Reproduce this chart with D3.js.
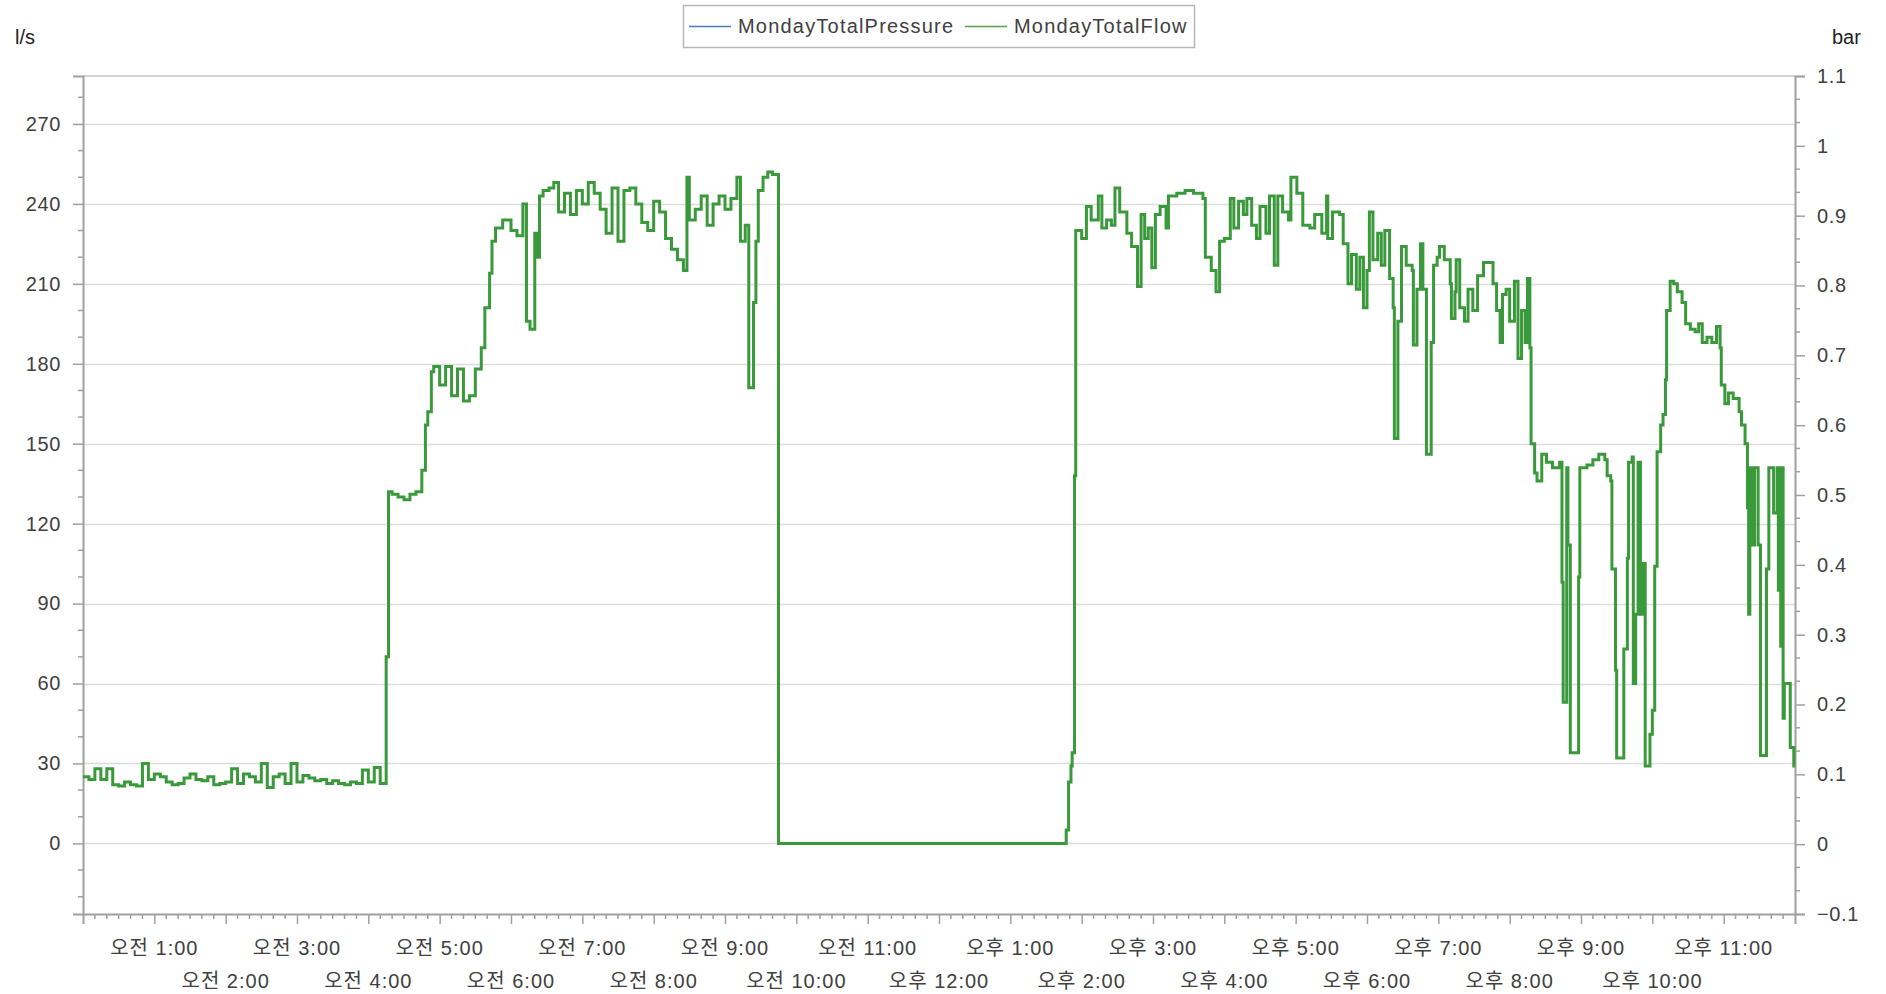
<!DOCTYPE html>
<html lang="ko">
<head>
<meta charset="utf-8">
<title>Monday total flow</title>
<script src="https://cdn.jsdelivr.net/npm/d3@7"></script>
<style>
  body { margin: 0; background: #fff; }
  text { font-family: "Liberation Sans", "Noto Sans CJK KR", sans-serif; }
</style>
</head>
<body>
<script>
// series names for the legend
var seriesNames = ["MondayTotalPressure", "MondayTotalFlow"];

// pressure series has no visible points in the picture
var pressureTimes = [];
var pressure = [];

// flow readings (l/s), one time per value
var times = [
  "0:00","0:05","0:10","0:15","0:20","0:25","0:30","0:35","0:40","0:45","0:50","0:55",
  "1:00","1:05","1:10","1:15","1:20","1:25","1:30","1:35","1:40","1:45","1:50","1:55",
  "2:00","2:05","2:10","2:15","2:20","2:25","2:30","2:35","2:40","2:45","2:50","2:55",
  "3:00","3:05","3:10","3:15","3:20","3:25","3:30","3:35","3:40","3:45","3:50","3:55",
  "4:00","4:05","4:10","4:15","4:17","4:20","4:25","4:30","4:35","4:40","4:45","4:48","4:50","4:53","4:55",
  "5:00","5:05","5:10","5:15","5:20","5:25","5:30","5:35","5:38","5:42","5:44","5:47","5:53",
  "6:00","6:05","6:10","6:13","6:16","6:20","6:22","6:24","6:27","6:32","6:36","6:40","6:45","6:50","6:55",
  "7:00","7:05","7:10","7:15","7:20","7:25","7:30","7:35","7:40","7:45","7:50","7:55",
  "8:00","8:05","8:10","8:15","8:20","8:25","8:28","8:30","8:35","8:40","8:45","8:50","8:55",
  "9:00","9:05","9:10","9:13","9:17","9:20","9:24","9:26","9:28","9:32","9:36","9:40","9:45",
  "13:45","13:47","13:49","13:51","13:52","13:54","13:55",
  "14:00","14:04","14:08","14:14","14:17","14:21","14:25","14:28","14:32","14:38","14:42","14:47","14:50","14:53","14:56","14:59",
  "15:02","15:06","15:11","15:13","15:20","15:27","15:34","15:42","15:44","15:49","15:53","15:56",
  "16:00","16:05","16:08","16:12","16:16","16:19","16:23","16:27","16:30","16:35","16:38","16:42","16:45","16:49","16:54","16:56",
  "17:01","17:06","17:12","17:16","17:22","17:26","17:27","17:31","17:37","17:40","17:44","17:47","17:51","17:54","17:57",
  "18:00","18:02","18:05","18:09","18:12","18:15","18:19","18:22","18:23","18:26","18:29","18:33","18:38","18:39","18:42","18:45","18:47","18:50","18:54","18:56","18:59",
  "19:01","19:05","19:10","19:11","19:14","19:15","19:18","19:22","19:25","19:29","19:33","19:38","19:43","19:46","19:49","19:52","19:54","19:57",
  "20:00","20:04","20:07","20:10","20:13","20:15","20:17","20:18","20:21","20:23","20:27","20:31","20:36","20:42","20:44","20:45","20:48","20:49","20:51","20:58","20:59",
  "21:05","21:10","21:15","21:20","21:22","21:25","21:26","21:29","21:30","21:36","21:39","21:40","21:43","21:44","21:46","21:48","21:50","21:52","21:54","21:58",
  "22:00","22:02","22:04","22:07","22:09","22:11","22:12","22:15","22:18","22:21","22:25","22:28","22:32","22:36","22:39","22:42","22:46","22:50","22:54","22:57","22:58",
  "23:01","23:04","23:08","23:13","23:15","23:18","23:20","23:21","23:22","23:24","23:26","23:29","23:31","23:36","23:38","23:42","23:45","23:46","23:47","23:48","23:49","23:50","23:51","23:56","23:59","24:00"
];
var flow = [
  25,24,28,24,28,22,21.5,23,22,21.5,30,24,
  26,25,23,22,22.5,24.5,26,24,23.5,25,22,22.5,
  23,28,22.5,26,25,23,30,21,25,26,22.5,30,
  23,25.5,24.5,23.5,24,22.5,23.5,22.5,22,23,22.5,27.5,
  23,28.5,22.5,70,132,131,130,129,131,132,140,157,162,177,179,
  172,179,168,178,166,168,178,186,201,214,226,231,234,
  230,228,240,196,193,229,220,243,245,246,248,237,244,236,245,
  240,248,244,238,229,246,226,245,246,240,233,230,
  241,237,227,223,219,215,250,234,238,243,232,240,243,
  238,242,250,226,232,171,203,226,245,250,252,251,0,
  0,5,23,29,34,138,230,
  227,239,234,243,231,234,232,246,237,229,224,209,236,227,231,216,
  236,239,231,243,244,245,244,242,220,215,207,226,
  227,242,231,241,236,242,232,227,239,229,243,217,243,237,234,250,
  244,232,231,236,229,243,227,237,236,225,210,221,208,220,201,
  215,237,219,229,217,230,212,201,152,196,224,217,215,187,208,225,208,146,188,217,220,
  224,219,210,197,207,219,201,196,208,200,213,218,218,210,200,188,206,208,
  196,211,182,200,188,212,186,150,139,136,146,143,141,143,98,53,141,112,34,100,141,
  142,144,146,144,138,136,103,65,32,73,107,143,145,60,86,143,86,105,29,41,
  50,104,147,157,161,174,200,211,210,207,203,195,193,192,195,188,190,188,194,186,172,
  165,169,167,162,157,150,126,86,141,112,141,112,33,103,141,124,141,95,141,74,141,47,60,36,29,29
];

// axis ticks
var leftTicks = [0, 30, 60, 90, 120, 150, 180, 210, 240, 270];
var leftMinor = [-20, -10, 10, 20, 40, 50, 70, 80, 100, 110, 130, 140, 160, 170, 190, 200, 220, 230, 250, 260, 280];
var rightTicks = [-0.1, 0, 0.1, 0.2, 0.3, 0.4, 0.5, 0.6, 0.7, 0.8, 0.9, 1, 1.1];
var hourTicks = ["1:00","2:00","3:00","4:00","5:00","6:00","7:00","8:00","9:00","10:00","11:00","12:00",
                 "13:00","14:00","15:00","16:00","17:00","18:00","19:00","20:00","21:00","22:00","23:00"];
var hourLabels = ["오전 1:00","오전 2:00","오전 3:00","오전 4:00","오전 5:00","오전 6:00","오전 7:00","오전 8:00",
                  "오전 9:00","오전 10:00","오전 11:00","오후 12:00","오후 1:00","오후 2:00","오후 3:00","오후 4:00",
                  "오후 5:00","오후 6:00","오후 7:00","오후 8:00","오후 9:00","오후 10:00","오후 11:00"];

function toDate(s) {
  var p = s.split(":");
  return new Date(2024, 0, 1, +p[0], +p[1]);
}

var W = 1886, H = 994;
var plotL = 83, plotR = 1795, plotT = 76, plotB = 914;

var svg = d3.select("body").append("svg")
  .attr("width", W).attr("height", H);

var x = d3.scaleTime()
  .domain([toDate("0:00"), toDate("24:00")])
  .range([plotL, plotR]);
var yL = d3.scaleLinear().domain([-26.5, 288]).range([plotB, plotT]);
var yR = d3.scaleLinear().domain([-0.1, 1.1]).range([plotB, plotT]);

// grid
svg.append("g").selectAll("line")
  .data(leftTicks).enter().append("line")
  .attr("x1", plotL).attr("x2", plotR)
  .attr("y1", function(d) { return Math.round(yL(d)) + 0.5; })
  .attr("y2", function(d) { return Math.round(yL(d)) + 0.5; })
  .attr("stroke", "#dcdcdc").attr("stroke-width", 1.5);

// top border
svg.append("line")
  .attr("x1", plotL).attr("x2", plotR).attr("y1", plotT).attr("y2", plotT)
  .attr("stroke", "#d4d4d4").attr("stroke-width", 2);

// left axis
var gL = svg.append("g").attr("transform", "translate(" + plotL + ",0)");
gL.call(d3.axisLeft(yL).tickValues(leftTicks).tickSize(10).tickPadding(12).tickFormat(d3.format("d")));
gL.selectAll("line.minor").data(leftMinor).enter().append("line").attr("class", "minor")
  .attr("x1", -5).attr("x2", 0)
  .attr("y1", function(d) { return yL(d); }).attr("y2", function(d) { return yL(d); });

// right axis
var gR = svg.append("g").attr("transform", "translate(" + plotR + ",0)");
gR.call(d3.axisRight(yR).tickValues(rightTicks).tickSize(10).tickPadding(12)
  .tickFormat(function(d) { return d3.format("~g")(+d.toFixed(2)); }));
var rightMinor = [];
rightTicks.slice(0, -1).forEach(function(t) { rightMinor.push(t + 0.1 / 3, t + 0.2 / 3); });
gR.selectAll("line.minor").data(rightMinor).enter().append("line").attr("class", "minor")
  .attr("x1", 0).attr("x2", 5)
  .attr("y1", function(d) { return yR(d); }).attr("y2", function(d) { return yR(d); });

// bottom axis
var gB = svg.append("g").attr("transform", "translate(0," + plotB + ")");
gB.call(d3.axisBottom(x).tickValues(hourTicks.map(toDate)).tickSize(10).tickFormat(""));
gB.selectAll("line.minor")
  .data(d3.timeMinute.every(10).range(toDate("0:10"), toDate("24:00"))
    .filter(function(d) { return d.getMinutes() !== 0; }))
  .enter().append("line").attr("class", "minor")
  .attr("x1", function(d) { return x(d); }).attr("x2", function(d) { return x(d); })
  .attr("y1", 0).attr("y2", 5);
gB.selectAll("text.hour").data(hourTicks).enter().append("text").attr("class", "hour")
  .attr("x", function(d) { return x(toDate(d)); })
  .attr("y", function(d, i) { return i % 2 === 0 ? 41 : 74; })
  .attr("text-anchor", "middle")
  .text(function(d, i) { return hourLabels[i]; });

// axis styling
svg.selectAll(".domain").attr("stroke", "#a0a0a0").attr("stroke-width", 2);
svg.selectAll(".tick line, line.minor").attr("stroke", "#a0a0a0").attr("stroke-width", 1.5);
svg.selectAll(".tick text, text.hour")
  .attr("fill", "#404040").style("font-size", "20px").style("letter-spacing", "0.6px");
gB.selectAll("text.hour").style("letter-spacing", "1px");

// flow line
var pts = times.map(function(t, i) { return { t: toDate(t), v: flow[i] }; });
svg.append("path")
  .datum(pts)
  .attr("fill", "none")
  .attr("stroke", "#3a993a")
  .attr("stroke-width", 3)
  .attr("d", d3.line()
    .curve(d3.curveStepAfter)
    .x(function(d) { return x(d.t); })
    .y(function(d) { return yL(d.v); }));

// pressure (empty)
svg.append("path")
  .datum(pressureTimes.map(function(t, i) { return { t: toDate(t), v: pressure[i] }; }))
  .attr("fill", "none").attr("stroke", "#4a7eb0").attr("stroke-width", 2)
  .attr("d", d3.line().x(function(d) { return x(d.t); }).y(function(d) { return yR(d.v); }));

// axis titles
svg.append("text").attr("x", 15).attr("y", 44).text("l/s")
  .attr("fill", "#222").style("font-size", "20px");
svg.append("text").attr("x", 1832).attr("y", 44).text("bar")
  .attr("fill", "#222").style("font-size", "20px");

// legend
var lg = svg.append("g");
lg.append("rect").attr("x", 683.5).attr("y", 5.5).attr("width", 511).attr("height", 42)
  .attr("fill", "#fff").attr("stroke", "#b8b8b8").attr("stroke-width", 1.5);
var legendColors = ["#4a7eb0", "#5aa04a"];
var legendX = [689, 965];
seriesNames.forEach(function(name, i) {
  lg.append("line").attr("x1", legendX[i]).attr("x2", legendX[i] + 42)
    .attr("y1", 26.5).attr("y2", 26.5)
    .attr("stroke", legendColors[i]).attr("stroke-width", 1.5);
  lg.append("text").attr("x", legendX[i] + 49).attr("y", 33).text(name)
    .attr("fill", "#404040").style("font-size", "20px").style("letter-spacing", "1.2px");
});
</script>
</body>
</html>
